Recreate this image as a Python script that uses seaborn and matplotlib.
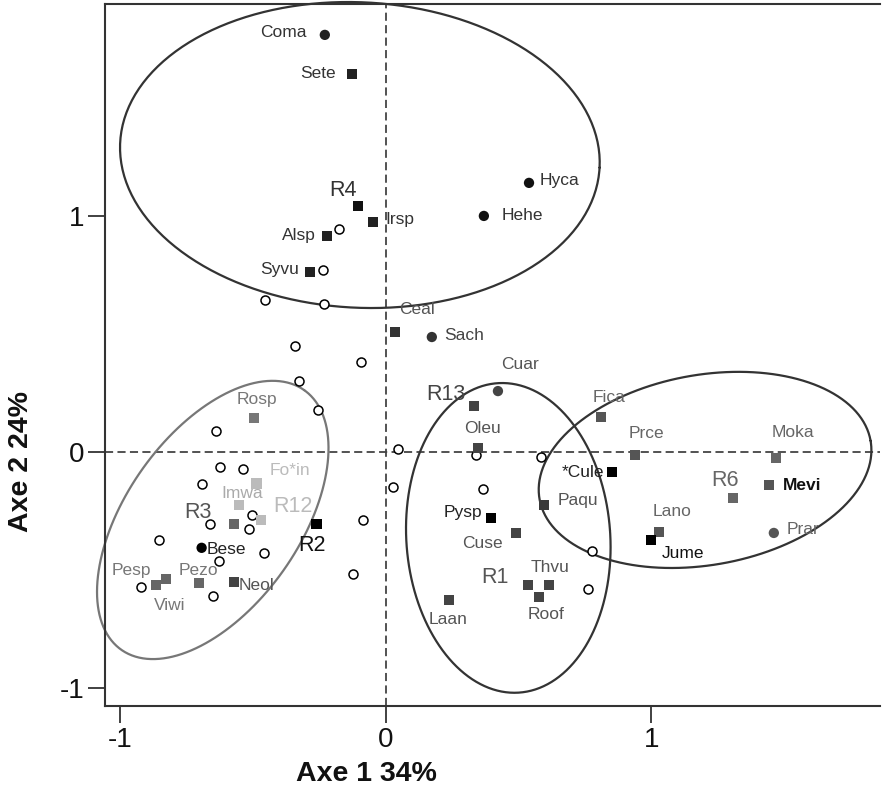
import numpy as np
import pandas as pd
import matplotlib
matplotlib.use('Agg')
import matplotlib.pyplot as plt
import seaborn as sns

# --- 1. Scores on axes 1 and 2 (labelled species / releves) ---
labels = ['Coma', 'Sete', 'R4', 'Irsp', 'Alsp', 'Syvu', 'Hyca', 'Hehe', 'Ceal', 'Sach',
          'Cuar', 'R13', 'Oleu', '*Cule', 'Paqu', 'Pysp', 'Cuse', 'R1', 'Thvu', 'Roof', 'Laan',
          'Fica', 'Prce', 'R6', 'Moka', 'Mevi', 'Lano', 'Jume', 'Prar',
          'Rosp', 'Fo*in', 'Imwa', 'R12', 'R3', 'R2', 'Bese', 'Neol', 'Pezo', 'Pesp', 'Viwi']
axe1 = [-0.230, -0.128, -0.105, -0.049, -0.222, -0.286, 0.539, 0.369, 0.034, 0.173,
        0.422, 0.331, 0.347, 0.851, 0.595, 0.395, 0.490, 0.535, 0.614, 0.576, 0.237,
        0.810, 0.938, 1.307, 1.469, 1.443, 1.028, 0.998, 1.461,
        -0.497, -0.487, -0.553, -0.471, -0.573, -0.261, -0.694, -0.573, -0.703, -0.829, -0.866]
axe2 = [1.767, 1.602, 1.042, 0.975, 0.915, 0.763, 1.140, 1.000, 0.508, 0.487,
        0.258, 0.195, 0.017, -0.085, -0.225, -0.280, -0.343, -0.564, -0.564, -0.614, -0.627,
        0.148, -0.013, -0.195, -0.025, -0.140, -0.339, -0.373, -0.343,
        0.144, -0.133, -0.225, -0.288, -0.305, -0.306, -0.406, -0.551, -0.556, -0.539, -0.565]
shape = ['ci', 'sq', 'sq', 'sq', 'sq', 'sq', 'ci', 'ci', 'sq', 'ci',
         'ci', 'sq', 'sq', 'sq', 'sq', 'sq', 'sq', 'sq', 'sq', 'sq', 'sq',
         'sq', 'sq', 'sq', 'sq', 'sq', 'sq', 'sq', 'ci',
         'sq', 'sq', 'sq', 'sq', 'sq', 'sq', 'ci', 'sq', 'sq', 'sq', 'sq']

# unlabelled samples (open circles)
open_x = [-0.176, -0.238, -0.456, -0.234, -0.343, -0.094, -0.327, -0.255, -0.640, -0.625,
          -0.537, -0.692, -0.504, -0.663, -0.516, -0.088, -0.855, -0.460, -0.628, -0.125,
          -0.924, -0.650, 0.046, 0.027, 0.339, 0.364, 0.583, 0.776, 0.761]
open_y = [0.944, 0.771, 0.644, 0.626, 0.449, 0.383, 0.301, 0.178, 0.089, -0.062,
          -0.072, -0.137, -0.267, -0.306, -0.328, -0.288, -0.373, -0.428, -0.462, -0.518,
          -0.573, -0.610, 0.011, -0.147, -0.013, -0.158, -0.022, -0.421, -0.582]

# groups: centre, semi-axes (x units), angle
ell_cx = [-0.098, -0.652, 0.461, 1.202]
ell_cy = [1.258, -0.288, -0.364, -0.076]
ell_a = [0.904, 0.598, 0.384, 0.633]
ell_b = [0.575, 0.327, 0.584, 0.358]
ell_ang = [-3, 54.85, 4, 10]

# --- 2. Styles ---
point_colors = ['#222222', '#222222', '#111111', '#222222', '#222222', '#222222', '#111111', '#111111', '#333333', '#333333',
                '#444444', '#444444', '#444444', '#000000', '#3a3a3a', '#000000', '#444444', '#444444', '#444444', '#444444', '#444444',
                '#555555', '#555555', '#666666', '#666666', '#555555', '#555555', '#000000', '#555555',
                '#777777', '#bbbbbb', '#bbbbbb', '#bbbbbb', '#666666', '#000000', '#000000', '#444444', '#666666', '#666666', '#666666']
text_colors = ['#333333', '#333333', '#333333', '#333333', '#333333', '#333333', '#333333', '#333333', '#555555', '#444444',
               '#555555', '#444444', '#555555', '#222222', '#555555', '#222222', '#555555', '#555555', '#555555', '#555555', '#555555',
               '#666666', '#666666', '#666666', '#666666', '#111111', '#666666', '#111111', '#666666',
               '#777777', '#bbbbbb', '#aaaaaa', '#bbbbbb', '#555555', '#111111', '#222222', '#555555', '#777777', '#777777', '#777777']
# label offsets in pixels (dx, dy up) and alignment
offs = {
    'Coma': (-18, 2, 'right'), 'Sete': (-16, 0, 'right'), 'R4': (-15, 16, 'center'),
    'Irsp': (12, 2, 'left'), 'Alsp': (-11, 0, 'right'), 'Syvu': (-11, 2, 'right'),
    'Hyca': (11, 2, 'left'), 'Hehe': (18, 0, 'left'), 'Ceal': (22, 23, 'center'),
    'Sach': (12, 2, 'left'), 'Cuar': (22, 27, 'center'), 'R13': (-28, 11, 'center'),
    'Oleu': (4, 19, 'center'), '*Cule': (-8, 0, 'right'), 'Paqu': (14, 5, 'left'),
    'Pysp': (-9, 6, 'right'), 'Cuse': (-34, -11, 'center'), 'R1': (-33, 8, 'center'),
    'Thvu': (1, 18, 'center'), 'Roof': (7, -18, 'center'), 'Laan': (-1, -20, 'center'),
    'Fica': (8, 20, 'center'), 'Prce': (11, 22, 'center'), 'R6': (-8, 18, 'center'),
    'Moka': (17, 25, 'center'), 'Mevi': (14, 0, 'left'), 'Lano': (13, 20, 'center'),
    'Jume': (32, -13, 'center'), 'Prar': (13, 3, 'left'),
    'Rosp': (3, 18, 'center'), 'Fo*in': (33, 13, 'center'), 'Imwa': (3, 12, 'center'),
    'R12': (32, 13, 'center'), 'R3': (-36, 11, 'center'), 'R2': (-5, -21, 'center'),
    'Bese': (5, -2, 'left'), 'Neol': (5, -3, 'left'), 'Pezo': (-1, 13, 'center'),
    'Pesp': (-34, 9, 'center'), 'Viwi': (14, -20, 'center'),
}
ell_colors = ['#333333', '#777777', '#333333', '#333333']
y_stretch = 265.5 / 236  # px per unit x / px per unit y

df = pd.DataFrame({'label': labels, 'axe1': axe1, 'axe2': axe2, 'shape': shape})
df_open = pd.DataFrame({'axe1': open_x, 'axe2': open_y})

sns.set_theme(style='white')
plt.rcParams['font.family'] = ['Liberation Sans', 'DejaVu Sans']

fig = plt.figure(figsize=(8.85, 7.91), dpi=100)
ax = fig.add_axes([0.1186, 0.1075, 0.8758, 0.8875])

# dashed zero lines
ax.axhline(0, color='#444444', lw=1.3, ls=(0, (4.5, 2.4)), zorder=1)
ax.axvline(0, color='#444444', lw=1.3, ls=(0, (4.5, 2.4)), zorder=1)

# group ellipses
t = np.linspace(0, 2 * np.pi, 300)
for cx, cy, a, b, ang, col in zip(ell_cx, ell_cy, ell_a, ell_b, ell_ang, ell_colors):
    phi = np.deg2rad(ang)
    ex, ey = a * np.cos(t), b * np.sin(t)
    xs = cx + ex * np.cos(phi) - ey * np.sin(phi)
    ys = cy + (ex * np.sin(phi) + ey * np.cos(phi)) * y_stretch
    ax.plot(xs, ys, color=col, lw=1.6, zorder=2, clip_on=False)

sns.scatterplot(data=df_open, x='axe1', y='axe2', marker='o', s=42, color='white',
                edgecolor='black', linewidth=1.1, ax=ax, zorder=3, legend=False)
sns.scatterplot(data=df, x='axe1', y='axe2', hue='label', palette=dict(zip(labels, point_colors)),
                style='shape', markers={'sq': 's', 'ci': 'o'}, s=55, linewidth=0,
                ax=ax, zorder=4, legend=False)

for lab, x, y, col in zip(labels, axe1, axe2, text_colors):
    dx, dy, ha = offs[lab]
    big = lab.startswith('R') and lab[1:].isdigit()
    ax.annotate(lab, (x, y), xytext=(dx, dy), textcoords='offset pixels',
                ha=ha, va='center', color=col,
                fontsize=15.5 if big else 12.5,
                fontweight='bold' if lab == 'Mevi' else 'normal', zorder=5)

ax.set_xlim(-1.058, 1.861)
ax.set_ylim(-1.076, 1.898)
ax.set_xticks([-1, 0, 1])
ax.set_yticks([-1, 0, 1])
ax.set_xticklabels(['-1', '0', '1'])
ax.set_yticklabels(['-1', '0', '1'])
ax.tick_params(axis='both', direction='out', length=12.5, width=1.3, color='#333333',
               labelsize=20, labelcolor='#111111', pad=2.5, bottom=True, left=True)
ax.set_xlabel('')
ax.set_ylabel('')
ax.spines['right'].set_visible(False)
for s in ['left', 'bottom', 'top']:
    ax.spines[s].set_color('#333333')
    ax.spines[s].set_linewidth(1.5)

fig.text(366 / 885, 1 - 774 / 791, 'Axe 1 34%', ha='center', va='center', fontsize=20.5,
         fontweight='bold', color='#111111')
fig.text(21 / 885, 1 - 462 / 791, 'Axe 2 24%', ha='center', va='center', rotation=90, fontsize=20.5,
         fontweight='bold', color='#111111')

fig.savefig('out.png', dpi=100, facecolor='white')
